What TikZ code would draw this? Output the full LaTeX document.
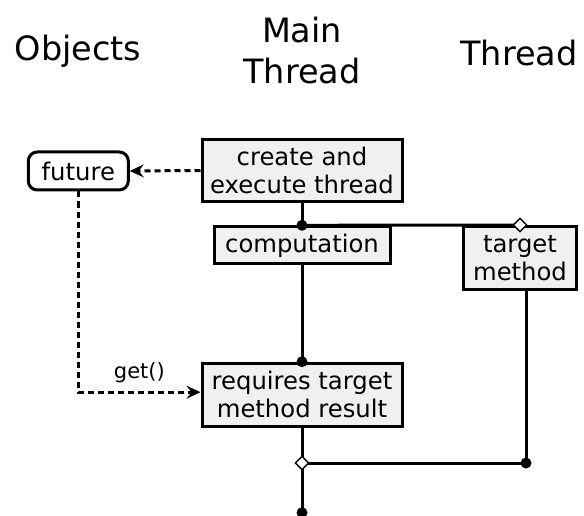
\documentclass[tikz,border=0pt]{standalone}
\usepackage{fontspec}
\setmainfont{DejaVu Sans}
\usetikzlibrary{arrows.meta,shapes.geometric}

\tikzset{
  box/.style={draw, line width=3pt, fill=gray!12, align=center, inner sep=0pt,
              font=\fontsize{24.3}{28.3}\selectfont},
  objbox/.style={box, fill=white, rounded corners=9pt},
  title/.style={align=center, inner sep=0pt, font=\fontsize{33.5}{41}\selectfont},
  flow/.style={line width=3pt},
  msg/.style={line width=3pt, dash pattern=on 6pt off 4pt,
              -{Stealth[length=14pt,width=13pt,inset=5pt]}},
  dot/.style={circle, fill=black, inner sep=0pt, minimum size=11pt},
  fork/.style={diamond, draw, fill=white, line width=1.4pt, inner sep=0pt, minimum size=14pt},
}

\begin{document}
\begin{tikzpicture}[x=1pt,y=-1pt]
  \useasboundingbox (0,0) rectangle (584,516);

  % column headings
  \node[title, anchor=base] (hobj) at (78,61) {Objects};
  \node[title, anchor=base] (hmain) at (302,84) {Main\\Thread};
  \node[title, anchor=base] (hthr) at (519,66) {Thread};

  % boxes
  \node[box, minimum width=200pt, minimum height=62pt] (create) at (302,170.5) {create and\\execute thread};
  \node[box, minimum width=176pt, minimum height=37pt] (comp) at (302,245.3) {computation};
  \node[box, minimum width=113pt, minimum height=63pt] (target) at (520,258) {target\\method};
  \node[box, minimum width=200pt, minimum height=63pt] (req) at (302,394.7) {requires target\\method result};
  \node[objbox, minimum width=100pt, minimum height=38pt] (future) at (78.3,171) {future};

  % junctions
  \coordinate (join) at (526,463);
  \coordinate (split) at (302,463);
  \coordinate (end) at (302,512.7);

  % control flow
  \draw[flow] (create.south) -- (comp.north);
  \draw[flow] (comp.north) -- (target.north);
  \draw[flow] (comp.south) -- (req.north);
  \draw[flow] (target.south -| join) -- (join);
  \draw[flow] (req.south) -- (split) -- (end);
  \draw[flow] (split) -- (join);

  % object interactions
  \draw[msg] (create.west) -- (future.east);
  \draw[msg] (future.south) |- node[pos=0.75, above=8pt, inner sep=0pt,
      font=\fontsize{21}{25}\selectfont] (getlbl) {get()} ([yshift=2.5pt]req.west);

  % markers
  \node[dot] at (comp.north) {};
  \node[dot] at (req.north) {};
  \node[dot] at (join) {};
  \node[dot] at (end) {};
  \node[fork] at (target.north) {};
  \node[fork] at (split) {};
\end{tikzpicture}
\end{document}
